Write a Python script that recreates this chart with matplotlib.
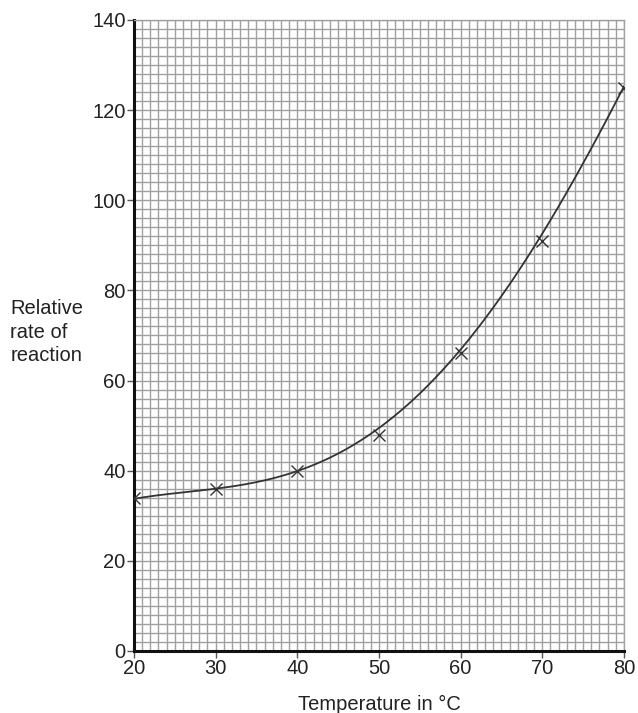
import numpy as np
import matplotlib
matplotlib.use('Agg')
import matplotlib.pyplot as plt
from matplotlib.ticker import MultipleLocator

plt.rcParams['font.family'] = ['Liberation Sans', 'DejaVu Sans']

###  measured points
temps = [20, 30, 40, 50, 60, 70, 80]
rates = [34, 36, 40, 48, 66, 91, 125]

###  hand-drawn line of best fit, read every 5 degrees
curveT = [20, 25, 30, 35, 40, 45, 50, 55, 60, 65, 70, 75, 80]
curveR = [34, 34.6, 35.8, 37.6, 40.2, 44, 49.5, 57, 66.5, 78.5, 93, 108.5, 125]

xTicks = [20, 30, 40, 50, 60, 70, 80]
yTicks = [0, 20, 40, 60, 80, 100, 120, 140]

fig = plt.figure(figsize=(6.38, 7.13), dpi=100)
ax = fig.add_axes([0.21, 0.087, 0.768, 0.885])

  #  smooth the curve with a 4th order polynomial through the read points
coef = np.polyfit(curveT, curveR, 4)
tt = np.linspace(curveT[0], curveT[-1], 300)
ax.plot(tt, np.polyval(coef, tt), color='#333333', lw=1.3, zorder=3)

ax.plot(temps, rates, ls='none', marker='x', ms=8, mew=1.0,
        color='#333333', zorder=4)

ax.set_xlim(20, 80)
ax.set_ylim(0, 140)
ax.set_xticks(xTicks)
ax.set_yticks(yTicks)
ax.xaxis.set_minor_locator(MultipleLocator(1))
ax.yaxis.set_minor_locator(MultipleLocator(2))
ax.grid(which='both', color='#a0a0a0', lw=1.0, zorder=0)
ax.set_axisbelow(True)

ax.tick_params(which='minor', length=0)
ax.tick_params(which='major', length=5, width=1, color='#555555',
               labelsize=14.5, labelcolor='#222222', pad=1)

for s in ['top', 'right']:
    ax.spines[s].set_color('#a0a0a0')
    ax.spines[s].set_linewidth(1.0)
for s in ['left', 'bottom']:
    ax.spines[s].set_color('#111111')
    ax.spines[s].set_linewidth(2.2)

ax.set_xlabel('Temperature in \u00b0C', fontsize=14.5, color='#222222',
              labelpad=12)
fig.text(0.016, 0.580, 'Relative\nrate of\nreaction', fontsize=14.5,
         color='#222222', ha='left', va='top', linespacing=1.3)

fig.savefig('out.png', dpi=100)
